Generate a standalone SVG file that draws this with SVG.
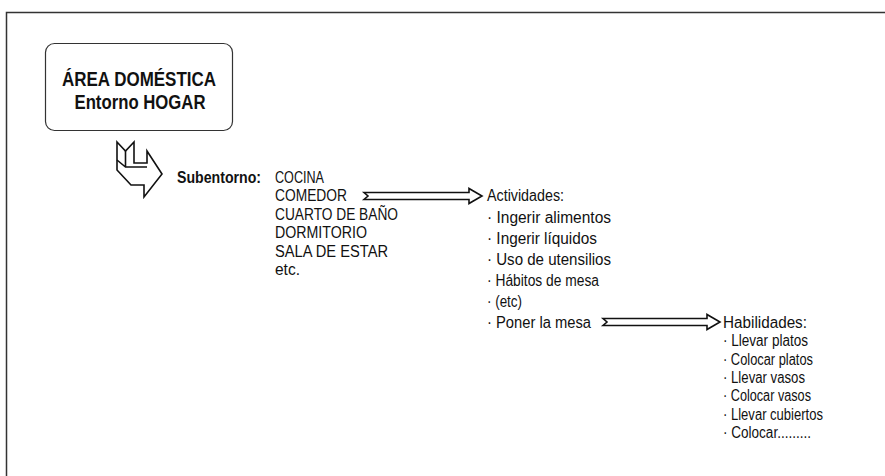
<svg xmlns="http://www.w3.org/2000/svg" width="885" height="476" viewBox="0 0 885 476">
<style>
.t{font-family:"Liberation Sans",Arial,sans-serif;font-size:16px;fill:#111}
.b{font-weight:bold}
.title{font-family:"Liberation Sans",Arial,sans-serif;font-size:20px;font-weight:bold;fill:#111;text-anchor:middle}
.ln{fill:none;stroke:#111;stroke-width:1.6;stroke-linejoin:miter}
</style>
<rect width="885" height="476" fill="#fff"/>
<path d="M6.5,480 L6.5,12.5 L890,12.5" fill="none" stroke="#333" stroke-width="1.5"/>
<g id="area">
<rect x="45.5" y="43.5" width="187" height="87" rx="9" fill="#fff" stroke="#333" stroke-width="1.2"/>
<text class="title" x="139" y="86" textLength="154" lengthAdjust="spacingAndGlyphs">ÁREA DOMÉSTICA</text>
<text class="title" x="140" y="109" textLength="131" lengthAdjust="spacingAndGlyphs">Entorno HOGAR</text>
</g>
<g id="connectors">
<g id="icon-arrow">
<path class="ln" stroke-width="2.4" d="M117,142 L125.5,151 L134,142 L134,163 L147,163 L147,151 L162,174 L144,197 L144,185 L131,185 L117,170 Z"/>
<path class="ln" stroke-width="2" d="M117,160 L125.5,167 L147,167 M125.5,151 L125.5,167"/>
</g>
<path id="arr1" class="ln" d="M364,192.5 L469,192.5 L469,188.5 L482,196 L469,203.5 L469,199.5 L364,199.5 L368,196 Z"/>
<path id="arr2" class="ln" d="M603,318.5 L707,318.5 L707,314.5 L720,322 L707,329.5 L707,325.5 L603,325.5 L607,322 Z"/>
</g>
<g id="subentorno">
<text class="t b" x="177" y="183" textLength="84" lengthAdjust="spacingAndGlyphs">Subentorno:</text>
<text class="t" x="275" y="183" textLength="49" lengthAdjust="spacingAndGlyphs">COCINA</text>
<text class="t" x="275" y="201.4" textLength="72" lengthAdjust="spacingAndGlyphs">COMEDOR</text>
<text class="t" x="275" y="219.8" textLength="123" lengthAdjust="spacingAndGlyphs">CUARTO DE BAÑO</text>
<text class="t" x="275" y="238.2" textLength="92" lengthAdjust="spacingAndGlyphs">DORMITORIO</text>
<text class="t" x="275" y="256.6" textLength="113" lengthAdjust="spacingAndGlyphs">SALA DE ESTAR</text>
<text class="t" x="275" y="275" textLength="25" lengthAdjust="spacingAndGlyphs">etc.</text>
</g>
<g id="actividades">
<text class="t" x="487" y="201.4" textLength="77" lengthAdjust="spacingAndGlyphs">Actividades:</text>
<text class="t" x="487" y="222.5" textLength="124" lengthAdjust="spacingAndGlyphs">· Ingerir alimentos</text>
<text class="t" x="487" y="243.6" textLength="110" lengthAdjust="spacingAndGlyphs">· Ingerir líquidos</text>
<text class="t" x="487" y="264.7" textLength="124" lengthAdjust="spacingAndGlyphs">· Uso de utensilios</text>
<text class="t" x="487" y="285.8" textLength="112" lengthAdjust="spacingAndGlyphs">· Hábitos de mesa</text>
<text class="t" x="487" y="306.9" textLength="35" lengthAdjust="spacingAndGlyphs">· (etc)</text>
<text class="t" x="487" y="328" textLength="104" lengthAdjust="spacingAndGlyphs">· Poner la mesa</text>
</g>
<g id="habilidades">
<text class="t" x="723" y="328" textLength="84" lengthAdjust="spacingAndGlyphs">Habilidades:</text>
<text class="t" x="723" y="346.3" textLength="85" lengthAdjust="spacingAndGlyphs">· Llevar platos</text>
<text class="t" x="723" y="364.6" textLength="90" lengthAdjust="spacingAndGlyphs">· Colocar platos</text>
<text class="t" x="723" y="382.9" textLength="82" lengthAdjust="spacingAndGlyphs">· Llevar vasos</text>
<text class="t" x="723" y="401.2" textLength="88" lengthAdjust="spacingAndGlyphs">· Colocar vasos</text>
<text class="t" x="723" y="419.5" textLength="100" lengthAdjust="spacingAndGlyphs">· Llevar cubiertos</text>
<text class="t" x="723" y="437.8" textLength="88" lengthAdjust="spacingAndGlyphs">· Colocar.........</text>
</g>
</svg>
